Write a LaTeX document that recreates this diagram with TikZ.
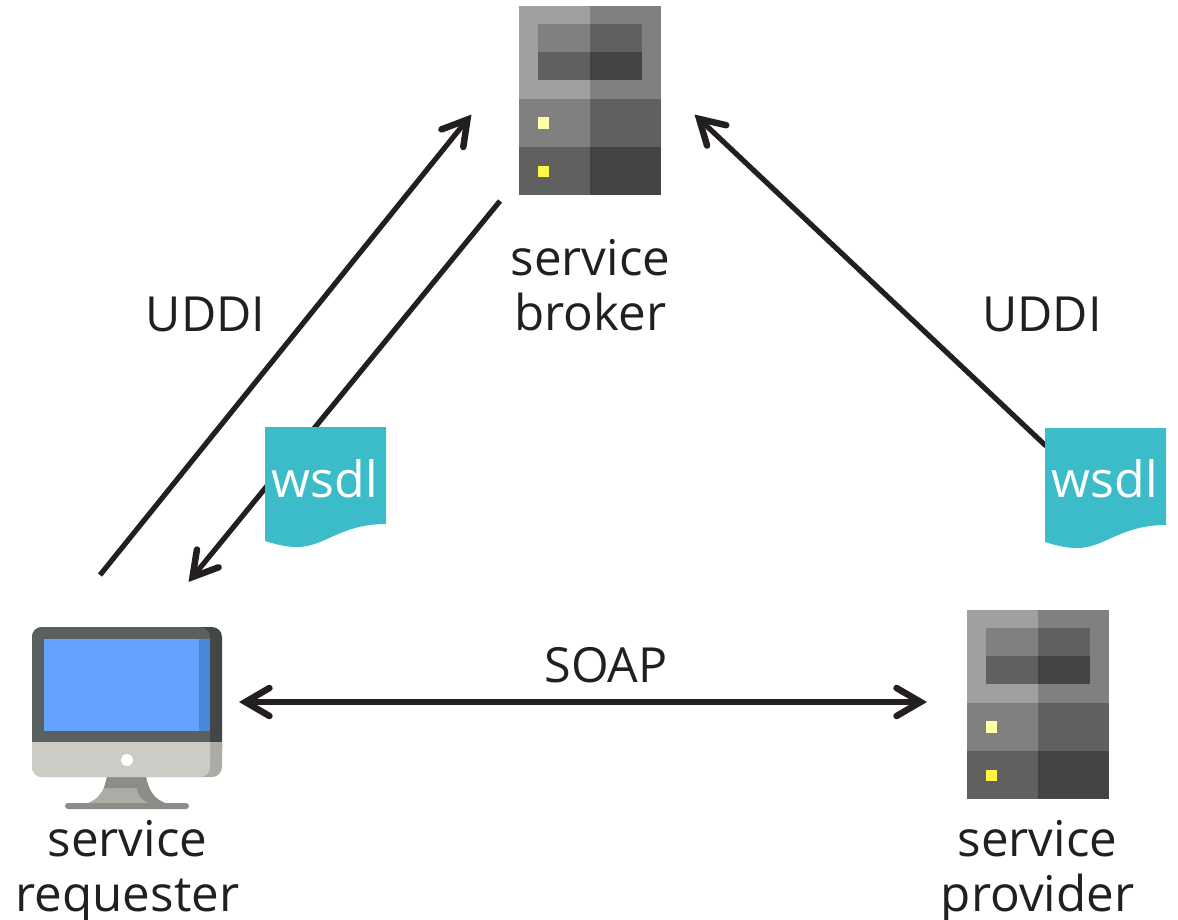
\documentclass[tikz,border=0pt]{standalone}
\usepackage{fontspec}
\setmainfont{Open Sans}
\usepackage{xcolor}
\usetikzlibrary{arrows.meta, positioning}

\definecolor{inkc}{HTML}{231F20}
\definecolor{wsdlc}{HTML}{3CBBC9}
\definecolor{graya}{HTML}{A0A0A0}
\definecolor{grayb}{HTML}{808080}
\definecolor{grayc}{HTML}{606060}
\definecolor{grayd}{HTML}{444444}
\definecolor{ledpale}{HTML}{FFFFA6}
\definecolor{ledfull}{HTML}{FFF44A}
\definecolor{bezelc}{HTML}{5A5F60}
\definecolor{bezeld}{HTML}{434646}
\definecolor{screenc}{HTML}{64A2FF}
\definecolor{screend}{HTML}{4A87D9}
\definecolor{shellc}{HTML}{CDCBC5}
\definecolor{shelld}{HTML}{ACABA6}
\definecolor{standc}{HTML}{ACABA6}
\definecolor{standd}{HTML}{8C8D88}

\tikzset{
    flow/.style={line width=5.2pt, color=inkc, line cap=butt},
    lbl/.style={font=\fontsize{49.3}{55}\selectfont, text=inkc, inner sep=0pt, align=center},
    caplbl/.style={font=\fontsize{48.4}{55}\selectfont, text=inkc, inner sep=0pt},
    wsdllbl/.style={font=\fontsize{50}{55}\selectfont, text=white, inner sep=0pt},
    server/.pic={
        \fill[graya] (0,0) rectangle (71,93);
        \fill[grayb] (71,0) rectangle (142,93);
        \fill[grayb] (0,93) rectangle (71,141);
        \fill[grayc] (71,93) rectangle (142,141);
        \fill[grayc] (0,141) rectangle (71,189);
        \fill[grayd] (71,141) rectangle (142,189);
        \fill[grayb] (19,18) rectangle (71,46);
        \fill[grayc] (71,18) rectangle (123,46);
        \fill[grayc] (19,46) rectangle (71,74);
        \fill[grayd] (71,46) rectangle (123,74);
        \fill[ledpale] (19,111) rectangle (30,123);
        \fill[ledfull] (19,160) rectangle (30,171);
    },
    wsdldoc/.pic={
        \fill[wsdlc] (0,0) -- (121,0) -- (121,97)
            .. controls (75,97) and (60,120) .. (32,120)
            .. controls (20,120) and (10,117) .. (0,114) -- cycle;
    }
}

\begin{document}
\begin{tikzpicture}[x=1pt, y=-1pt, >={Straight Barb[length=24pt, width=28pt, line width=6.5pt, line cap=round]}]
    \useasboundingbox (0,0) rectangle (1178,919);

    % arrow ends
    \coordinate (reqout) at (100,575);
    \coordinate (brokin) at (471.5,114.5);
    \coordinate (brokout) at (500,201);
    \coordinate (reqin) at (188.5,582);
    \coordinate (provout) at (1046,446);
    \coordinate (brokin2) at (694.5,114.5);
    \coordinate (soapl) at (239,702);
    \coordinate (soapr) at (927,702);

    \draw
    (reqout) edge[flow, ->] (brokin)
    (brokout) edge[flow, ->] (reqin)
    (provout) edge[flow, ->] (brokin2)
    (soapl) edge[flow, <->] (soapr);

    % icons
    \pic at (519,6) {server};
    \pic at (967,610) {server};
    \pic at (265,427) {wsdldoc};
    \pic at (1045,428) {wsdldoc};

    % monitor
    \fill[standc] (107,777) .. controls (104,792) and (98,799) .. (88,803) -- (165,803)
        .. controls (155,799) and (149,792) .. (146,777) -- cycle;
    \fill[standd] (107,777) -- (146,777) .. controls (149,792) and (155,799) .. (165,803)
        -- (150,803) .. controls (142,801) and (138,796) .. (137,788) -- (104,788) -- cycle;
    \fill[standd, rounded corners=3pt] (65,803) rectangle (189,809);
    \fill[bezeld, rounded corners=10pt] (32,627) rectangle (222,760);
    \fill[bezelc, rounded corners=10pt] (32,627) rectangle (210,760);
    \fill[shelld] (32,742) [rounded corners=10pt] -- (32,777) -- (222,777) [sharp corners] -- (222,742) -- cycle;
    \fill[shellc] (32,742) [rounded corners=10pt] -- (32,777) -- (210,777) [sharp corners] -- (210,742) -- cycle;
    \fill[screenc] (44,639) rectangle (199,731);
    \fill[screend] (199,639) rectangle (210,731);
    \fill[white] (127,760) circle[radius=6];

    % labels
    \node[lbl, anchor=north] (broker) at (590.5,239) {service\\broker};
    \node[lbl, anchor=north] (requester) at (127.5,820) {service\\requester};
    \node[lbl, anchor=north] (provider) at (1037.5,820) {service\\provider};
    \node[caplbl] (uddia) at (205.5,314) {UDDI};
    \node[caplbl] (uddib) at (1042,314) {UDDI};
    \node[caplbl] (soap) at (606,665) {SOAP};
    \node[wsdllbl] (wsdla) at (325,479) {wsdl};
    \node[wsdllbl] (wsdlb) at (1105,479) {wsdl};
\end{tikzpicture}
\end{document}
